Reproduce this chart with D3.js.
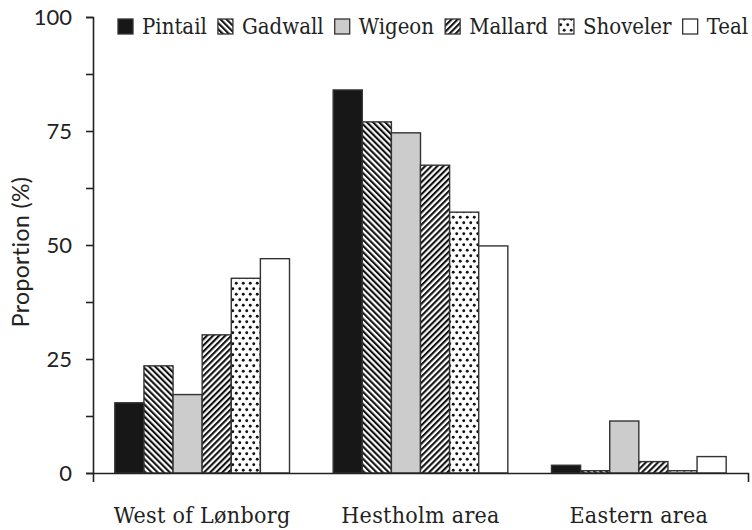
<!DOCTYPE html>
<html>
<head>
<meta charset="utf-8">
<script src="https://cdn.jsdelivr.net/npm/d3@7"></script>
<style>
  body { margin: 0; background: #fff; }
</style>
</head>
<body>
<div id="chart"></div>
<script>
// data
const areas = ["West of Lønborg", "Hestholm area", "Eastern area"];
const species = ["Pintail", "Gadwall", "Wigeon", "Mallard", "Shoveler", "Teal"];
const pintail  = [15.4, 84.0, 1.7];
const gadwall  = [23.5, 77.0, 0.5];
const wigeon   = [17.2, 74.6, 11.4];
const mallard  = [30.3, 67.5, 2.5];
const shoveler = [42.7, 57.2, 0.5];
const teal     = [47.0, 49.8, 3.6];
const yTicks = [0, 25, 50, 75, 100];
const yMinor = [12.5, 37.5, 62.5, 87.5];

const values = [pintail, gadwall, wigeon, mallard, shoveler, teal];

const W = 752, H = 530;
const margin = {top: 17, right: 4, bottom: 57, left: 93};
const serifFont = "'DejaVu Serif Condensed'";
const sansFont = "Lato";

const svg = d3.select("#chart")
  .append("svg")
    .attr("width", W)
    .attr("height", H);

// fill patterns
const defs = svg.append("defs");

function stripes(id, angle) {
  const p = defs.append("pattern")
    .attr("id", id)
    .attr("patternUnits", "userSpaceOnUse")
    .attr("width", 4.3)
    .attr("height", 10)
    .attr("patternTransform", `rotate(${angle})`);
  p.append("rect").attr("width", 4.3).attr("height", 10).attr("fill", "#fff");
  p.append("rect").attr("width", 2.1).attr("height", 10).attr("fill", "#111");
}
stripes("gadwall", -45);
stripes("mallard", 45);

const dots = defs.append("pattern")
  .attr("id", "shoveler")
  .attr("patternUnits", "userSpaceOnUse")
  .attr("width", 7)
  .attr("height", 11);
dots.append("rect").attr("width", 7).attr("height", 11).attr("fill", "#fff");
dots.append("circle").attr("cx", 1.75).attr("cy", 2.75).attr("r", 1.45).attr("fill", "#111");
dots.append("circle").attr("cx", 5.25).attr("cy", 8.25).attr("r", 1.45).attr("fill", "#111");

const fills = {
  Pintail: "#171717",
  Gadwall: "url(#gadwall)",
  Wigeon: "#cccccc",
  Mallard: "url(#mallard)",
  Shoveler: "url(#shoveler)",
  Teal: "#ffffff"
};

const x = d3.scaleBand()
  .domain(areas)
  .range([margin.left, W - margin.right])
  .paddingInner(0.2)
  .paddingOuter(0.1);

const xs = d3.scaleBand()
  .domain(species)
  .range([0, x.bandwidth()]);

const y = d3.scaleLinear()
  .domain([0, 100])
  .range([H - margin.bottom, margin.top]);

// bars
const rows = [];
areas.forEach((a, i) => species.forEach((s, j) => rows.push({area: a, sp: s, v: values[j][i]})));

svg.append("g")
  .selectAll("rect")
  .data(rows)
  .join("rect")
    .attr("x", d => x(d.area) + xs(d.sp))
    .attr("y", d => y(d.v))
    .attr("width", xs.bandwidth())
    .attr("height", d => y(0) - y(d.v))
    .attr("fill", d => fills[d.sp])
    .attr("stroke", "#333")
    .attr("stroke-width", 1.4);

// axes
const yAxis = svg.append("g")
  .attr("transform", `translate(${margin.left},0)`)
  .call(d3.axisLeft(y).tickValues(yTicks).tickSize(7).tickSizeOuter(7).tickPadding(14));
yAxis.selectAll("text")
  .style("font-family", sansFont)
  .style("font-size", "22px")
  .attr("fill", "#222");

svg.append("g")
  .attr("transform", `translate(${margin.left},0)`)
  .call(d3.axisLeft(y).tickValues(yMinor).tickSize(7).tickFormat(""))
  .call(g => g.select(".domain").remove());

svg.append("g")
  .attr("transform", `translate(0,${y(0)})`)
  .call(d3.axisBottom(x).tickSize(0).tickSizeOuter(9).tickPadding(34))
  .call(g => g.selectAll("text")
    .style("font-family", serifFont)
    .style("font-size", "23px")
    .style("letter-spacing", "0.3px")
    .attr("fill", "#222"));

svg.selectAll(".domain, .tick line")
  .attr("stroke", "#222")
  .attr("stroke-width", 1.6);

// y title
svg.append("text")
  .attr("transform", `translate(29,${(y(0) + y(100)) / 2 + 7}) rotate(-90)`)
  .attr("text-anchor", "middle")
  .style("font-family", sansFont)
  .style("font-size", "23px")
  .style("letter-spacing", "0.4px")
  .attr("fill", "#222")
  .text("Proportion (%)");

// legend, spread between x=118 and the right edge
const legend = svg.append("g");
const sq = 15, gapIn = 9;
const items = legend.selectAll("g")
  .data(species)
  .join("g");
items.append("rect")
  .attr("y", 19)
  .attr("width", sq)
  .attr("height", sq)
  .attr("fill", d => fills[d])
  .attr("stroke", "#333")
  .attr("stroke-width", 1.3);
items.append("text")
  .attr("x", sq + gapIn)
  .attr("y", 34)
  .style("font-family", serifFont)
  .style("font-size", "22px")
  .attr("fill", "#222")
  .text(d => d);

const widths = [];
items.select("text").each(function() { widths.push(sq + gapIn + this.getComputedTextLength()); });
const startX = 118, endX = 748;
const gap = (endX - startX - d3.sum(widths)) / (species.length - 1);
let cx = startX;
items.each(function(d, i) {
  d3.select(this).attr("transform", `translate(${cx},0)`);
  cx += widths[i] + gap;
});
</script>
</body>
</html>
